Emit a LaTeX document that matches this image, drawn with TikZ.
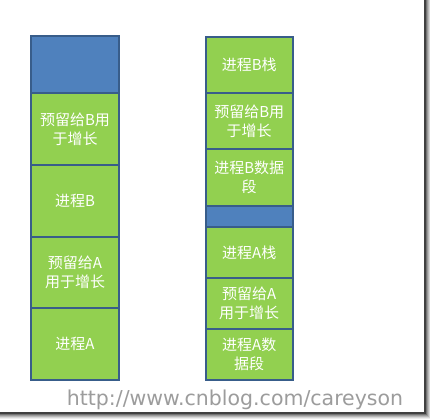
\documentclass[tikz,border=0pt]{standalone}
\usepackage{fontspec}
\newfontfamily\cjk{Noto Sans CJK SC}
\newfontfamily\wmfont{DejaVu Sans}
\definecolor{grn}{HTML}{92D050}
\definecolor{blu}{HTML}{4F81BD}
\definecolor{bord}{HTML}{385D8A}
\definecolor{wmgray}{HTML}{9C9C9C}
\begin{document}
\begin{tikzpicture}[x=1pt,y=-1pt,
  blk/.style={draw=bord, line width=2pt, fill=grn, inner sep=0pt, text=white,
    font=\cjk\fontsize{15}{19}\selectfont, align=center},
  lcol/.style={blk, minimum width=88pt},
  rcol/.style={blk, minimum width=87pt},
  bluebox/.style={fill=blu}]
\useasboundingbox (0,0) rectangle (430,418);
\fill[white] (0,0) rectangle (430,418);
% left column
\node[lcol, bluebox, minimum height=57pt] (l1) at (75,64.5) {};
\node[lcol, minimum height=72pt] (l2) at (75,129) {预留给B用\\于增长};
\node[lcol, minimum height=72pt] (l3) at (75,201) {进程B};
\node[lcol, minimum height=71pt] (l4) at (75,272.5) {预留给A\\用于增长};
\node[lcol, minimum height=72pt] (l5) at (75,344) {进程A};
% right column
\node[rcol, minimum height=56pt] (r1) at (249.2,65) {进程B栈};
\node[rcol, minimum height=56pt] (r2) at (249.2,121) {预留给B用\\于增长};
\node[rcol, minimum height=57pt] (r3) at (249.2,177.5) {进程B数据\\段};
\node[rcol, bluebox, minimum height=21pt] (r4) at (249.2,216.5) {};
\node[rcol, minimum height=51pt] (r5) at (249.2,252.5) {进程A栈};
\node[rcol, minimum height=51pt] (r6) at (249.2,303.5) {预留给A\\用于增长};
\node[rcol, minimum height=51pt] (r7) at (249.2,354.5) {进程A数\\据段};
% watermark
\node[font=\wmfont\fontsize{20.5}{20.5}\selectfont, text=wmgray, anchor=base, inner sep=0pt] (wm) at (235,405) {http://www.cnblog.com/careyson};
% frame shadow
\coordinate (tr) at (425,0);
\coordinate (br) at (425,413);
\coordinate (bl) at (0,413);
\draw[line width=1.2pt, black!75] (tr) -- (br) -- (bl);
\foreach \d/\g in {1.2/55,2.2/40,3.2/28,4.2/16,5.2/7}{
  \draw[line width=1pt, black!\g] ([xshift=\d pt]tr) -- ([xshift=\d pt, yshift=-\d pt]br) -- ([yshift=-\d pt]bl);
}
\end{tikzpicture}
\end{document}
